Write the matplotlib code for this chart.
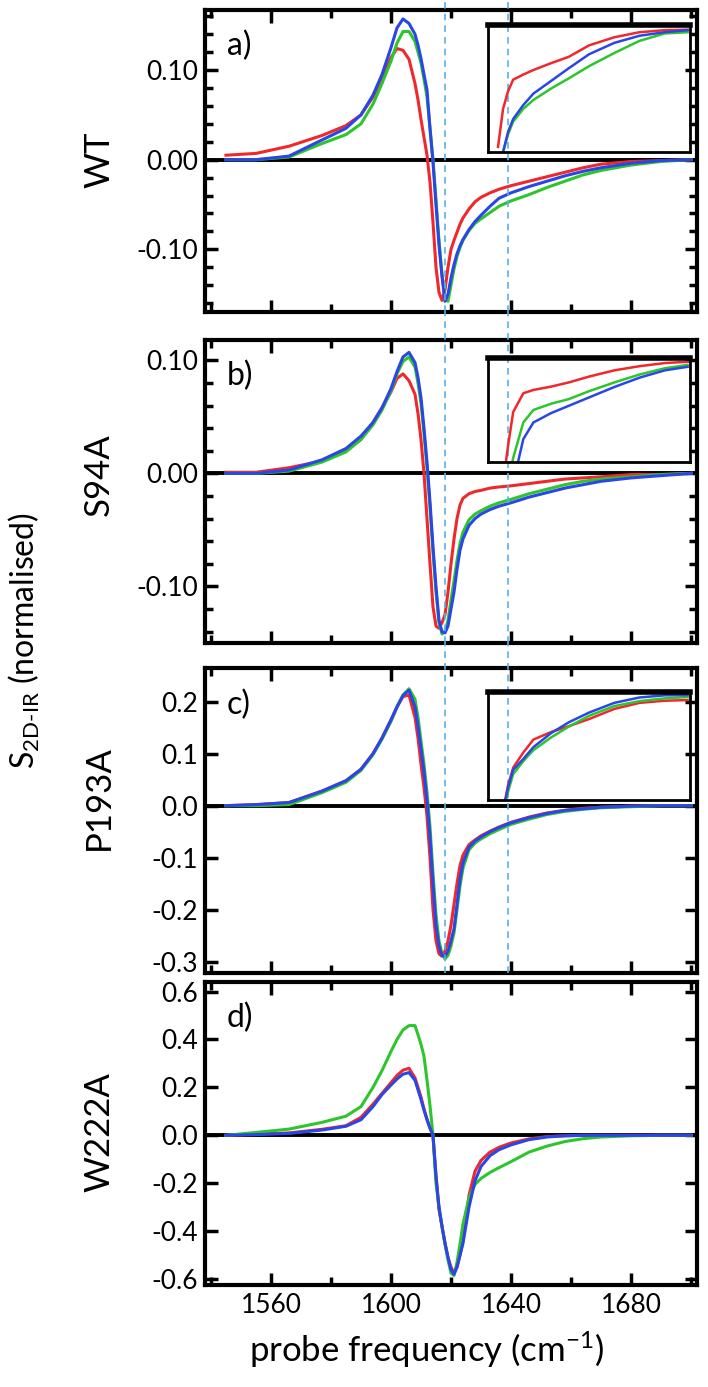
import numpy as np
import matplotlib
matplotlib.use("Agg")
import matplotlib.pyplot as plt
from matplotlib.ticker import MultipleLocator, FormatStrFormatter

# --- CONFIGURATION ---
plt.rcParams['font.family'] = ['Lato', 'DejaVu Sans']
plt.rcParams['mathtext.fontset'] = 'custom'
plt.rcParams['mathtext.rm'] = 'Lato'
plt.rcParams['mathtext.it'] = 'Lato'
plt.rcParams['axes.unicode_minus'] = False

RED = '#f0282c'
BLUE = '#2a46e6'
GREEN = '#2cc62c'
DASH = '#5ab0e6'

# --- DATA ---
freq = [1545, 1555, 1566, 1577, 1585, 1590, 1594, 1597, 1600, 1602, 1604, 1606, 1608, 1609,
        1610, 1611, 1612, 1613, 1614, 1615, 1616, 1617, 1618, 1619, 1620, 1621, 1622, 1623,
        1624, 1626, 1628, 1630, 1633, 1636, 1640, 1646, 1652, 1658, 1664, 1670, 1680, 1690, 1700]

wt_red = [.005, .007, .015, .027, .038, .05, .07, .09, .114, .124, .122, .112, .085, .067,
          .045, .025, .005, -.025, -.07, -.12, -.148, -.157, -.145, -.12, -.1, -.09, -.081, -.072,
          -.065, -.055, -.047, -.042, -.037, -.033, -.029, -.024, -.019, -.014, -.009, -.005, -.002, -.001, 0]
wt_blue = [0, 0, .004, .022, .035, .05, .072, .095, .125, .147, .157, .152, .14, .128,
           .113, .095, .078, .035, -.003, -.05, -.095, -.13, -.158, -.15, -.132, -.117, -.105, -.096,
           -.089, -.078, -.069, -.062, -.052, -.043, -.037, -.03, -.024, -.018, -.013, -.009, -.004, -.001, 0]
wt_green = [0, 0, .003, .018, .028, .04, .062, .085, .11, .13, .143, .143, .132, .12,
            .108, .09, .07, .035, 0, -.045, -.09, -.128, -.155, -.158, -.14, -.122, -.108, -.098,
            -.09, -.079, -.071, -.066, -.059, -.052, -.046, -.039, -.031, -.024, -.017, -.012, -.006, -.002, 0]

s94a_red = [.001, .001, .005, .011, .02, .03, .045, .058, .072, .084, .088, .082, .07, .053,
            .03, 0, -.04, -.08, -.118, -.135, -.137, -.132, -.125, -.105, -.08, -.058, -.04, -.028,
            -.022, -.018, -.016, -.015, -.013, -.012, -.011, -.009, -.007, -.005, -.004, -.003, -.001, -.001, 0]
s94a_blue = [0, 0, .003, .012, .022, .033, .045, .058, .075, .09, .103, .107, .098, .085,
             .067, .04, .01, -.025, -.065, -.1, -.13, -.14, -.141, -.135, -.12, -.105, -.085, -.068,
             -.058, -.046, -.04, -.036, -.032, -.029, -.026, -.021, -.017, -.013, -.01, -.007, -.004, -.002, 0]
s94a_green = [0, 0, .002, .01, .019, .03, .043, .056, .073, .088, .099, .103, .094, .08,
              .062, .035, .005, -.03, -.07, -.105, -.132, -.142, -.14, -.13, -.112, -.095, -.077, -.062,
              -.052, -.041, -.036, -.033, -.029, -.026, -.023, -.018, -.014, -.01, -.007, -.005, -.003, -.001, 0]

p193a_red = [0, .002, .006, .028, .048, .07, .1, .13, .165, .19, .21, .213, .17, .13,
             .08, .035, -.02, -.1, -.2, -.26, -.285, -.29, -.28, -.26, -.23, -.19, -.15, -.115,
             -.095, -.075, -.066, -.058, -.049, -.041, -.032, -.022, -.014, -.009, -.005, -.003, -.001, 0, 0]
p193a_blue = [0, .002, .006, .028, .048, .07, .1, .13, .165, .19, .212, .222, .19, .153,
              .11, .065, .01, -.06, -.15, -.23, -.27, -.288, -.29, -.28, -.26, -.237, -.19, -.142,
              -.11, -.08, -.068, -.06, -.05, -.042, -.033, -.023, -.015, -.009, -.006, -.003, -.001, 0, 0]
p193a_green = [0, 0, .002, .025, .045, .068, .098, .128, .162, .19, .213, .225, .205, .17,
               .125, .08, .025, -.04, -.13, -.21, -.26, -.285, -.295, -.288, -.27, -.245, -.2, -.155,
               -.12, -.085, -.072, -.064, -.054, -.046, -.036, -.026, -.017, -.011, -.007, -.004, -.002, 0, 0]

w222a_red = [0, .005, .01, .025, .04, .075, .13, .175, .22, .25, .272, .28, .24, .2,
             .16, .11, .068, .03, 0, -.17, -.31, -.38, -.45, -.51, -.55, -.575, -.55, -.5,
             -.44, -.25, -.15, -.105, -.07, -.05, -.032, -.015, -.005, -.002, 0, 0, 0, 0, 0]
w222a_blue = [0, .003, .008, .022, .038, .065, .12, .17, .21, .235, .255, .262, .23, .19,
              .15, .105, .065, .03, 0, -.17, -.3, -.38, -.45, -.51, -.56, -.58, -.55, -.5,
              -.45, -.3, -.19, -.13, -.085, -.06, -.04, -.018, -.007, -.002, 0, 0, 0, 0, 0]
w222a_green = [0, .012, .026, .054, .08, .12, .2, .27, .35, .4, .44, .458, .458, .42,
               .38, .33, .23, .124, 0, -.2, -.3, -.38, -.454, -.52, -.575, -.585, -.53, -.454,
               -.37, -.26, -.205, -.18, -.155, -.135, -.11, -.07, -.045, -.026, -.014, -.007, -.002, 0, 0]

# zoomed tails shown in the insets
inset_freq = [1624, 1626, 1628, 1630, 1634, 1638, 1645, 1652, 1660, 1670, 1680, 1690, 1699]
ins_a_red = [-.048, -.033, -.026, -.0215, -.0195, -.0177, -.015, -.0125, -.008, -.0048, -.0028, -.002, -.0018]
ins_a_blue = [-.07, -.05, -.042, -.037, -.0315, -.027, -.022, -.017, -.0115, -.007, -.0042, -.0028, -.002]
ins_a_green = [-.07, -.05, -.043, -.038, -.033, -.0295, -.025, -.021, -.0162, -.011, -.0062, -.0033, -.0028]
ins_b_red = [-.07, -.06, -.042, -.026, -.017, -.0154, -.0138, -.0118, -.009, -.006, -.004, -.0025, -.0019]
ins_b_blue = [-.07, -.07, -.065, -.06, -.039, -.031, -.0265, -.023, -.019, -.014, -.0095, -.006, -.0043]
ins_b_green = [-.07, -.07, -.06, -.048, -.031, -.025, -.022, -.0198, -.016, -.0118, -.008, -.005, -.0034]
ins_c_red = [-.07, -.055, -.043, -.035, -.028, -.022, -.0185, -.0158, -.0125, -.0078, -.005, -.004, -.0037]
ins_c_blue = [-.07, -.055, -.044, -.036, -.031, -.0255, -.019, -.014, -.0095, -.005, -.0025, -.0015, -.0014]
ins_c_green = [-.07, -.056, -.046, -.038, -.032, -.0269, -.021, -.016, -.011, -.0065, -.0042, -.0029, -.0023]

panel_names = ['WT', 'S94A', 'P193A', 'W222A']
panel_tags = ['a)', 'b)', 'c)', 'd)']
marker_freqs = [1618, 1639]

# --- FIGURE ---
fig = plt.figure(figsize=(7.08, 13.87), dpi=100)

# [left, bottom, width, height], ylim, major, minor, fmt
PANELS = [
    ([0.2895, 0.7750, 0.695, 0.2178], (-0.17, 0.167), 0.10, 0.02, '%.2f'),
    ([0.2895, 0.5364, 0.695, 0.2185], (-0.15, 0.118), 0.10, 0.02, '%.2f'),
    ([0.2895, 0.2985, 0.695, 0.2199], (-0.322, 0.265), 0.10, None, '%.1f'),
    ([0.2895, 0.0735, 0.695, 0.2185], (-0.625, 0.64), 0.20, None, '%.1f'),
]
SERIES = [
    (wt_red, wt_blue, wt_green),
    (s94a_red, s94a_blue, s94a_green),
    (p193a_red, p193a_blue, p193a_green),
    (w222a_red, w222a_blue, w222a_green),
]
INSETS = [
    ([0.575, 0.53, 0.411, 0.42], (ins_a_red, ins_a_blue, ins_a_green)),
    ([0.575, 0.597, 0.411, 0.344], (ins_b_red, ins_b_blue, ins_b_green)),
    ([0.575, 0.567, 0.411, 0.354], (ins_c_red, ins_c_blue, ins_c_green)),
]
DASH_TOP = [1.035, 1.093, 1.082]
NAME_Y = [0.885, 0.6575, 0.425, 0.184]

axes = []
for i, (rect, ylim, major, minor, fmt) in enumerate(PANELS):
    ax = fig.add_axes(rect)
    axes.append(ax)
    red, blue, green = SERIES[i]
    for vals, col in ((red, RED), (green, GREEN), (blue, BLUE)):
        ax.plot(freq, vals, color=col, lw=2.2, zorder=3)
    ax.axhline(0, color='black', lw=2.8, zorder=2)
    ax.set_xlim(1538, 1702)
    ax.set_ylim(*ylim)
    ax.xaxis.set_major_locator(MultipleLocator(40))
    ax.xaxis.set_minor_locator(MultipleLocator(20))
    ax.yaxis.set_major_locator(MultipleLocator(major))
    if minor:
        ax.yaxis.set_minor_locator(MultipleLocator(minor))
    ax.yaxis.set_major_formatter(FormatStrFormatter(fmt))
    ax.tick_params(which='both', direction='in', top=True, right=True, width=2.5, labelsize=19)
    ax.tick_params(which='major', length=9)
    ax.tick_params(which='minor', length=6)
    ax.tick_params(axis='y', pad=5)
    for sp in ax.spines.values():
        sp.set_linewidth(3)
    if i < 3:
        ax.tick_params(labelbottom=False)
        for f in marker_freqs:
            ax.axvline(f, ymin=0, ymax=DASH_TOP[i], color=DASH, lw=1.2, ls=(0, (4, 3)),
                       clip_on=False, zorder=5)
    ax.text(0.045, 0.88, panel_tags[i], transform=ax.transAxes, fontsize=23, va='center', ha='left')
    fig.text(0.14, NAME_Y[i], panel_names[i], rotation=90, fontsize=25,
             ha='center', va='center')

axes[3].set_xticks([1560, 1600, 1640, 1680])
axes[3].tick_params(axis='x', pad=6)
axes[3].set_xlabel('probe frequency (cm$^{-1}$)', fontsize=25, labelpad=8)
axes[3].xaxis.label.set_x(0.45)

# --- INSETS ---
for i, (irect, (r, b, g)) in enumerate(INSETS):
    ins = axes[i].inset_axes(irect)
    ins.set_facecolor('none')
    for vals, col in ((r, RED), (g, GREEN), (b, BLUE)):
        ins.plot(inset_freq, vals, color=col, lw=1.8)
    ins.set_xlim(1620, 1700)
    ins.set_ylim(-0.05, 0.0)
    ins.set_xticks([])
    ins.set_yticks([])
    for sp in ins.spines.values():
        sp.set_linewidth(2)
    ins.spines['top'].set_linewidth(4)

fig.text(0.034, 0.538, 'S$_{\\mathrm{2D\u2010IR}}$ (normalised)', rotation=90, fontsize=23,
         ha='center', va='center')

fig.savefig('out.png', dpi=100)
